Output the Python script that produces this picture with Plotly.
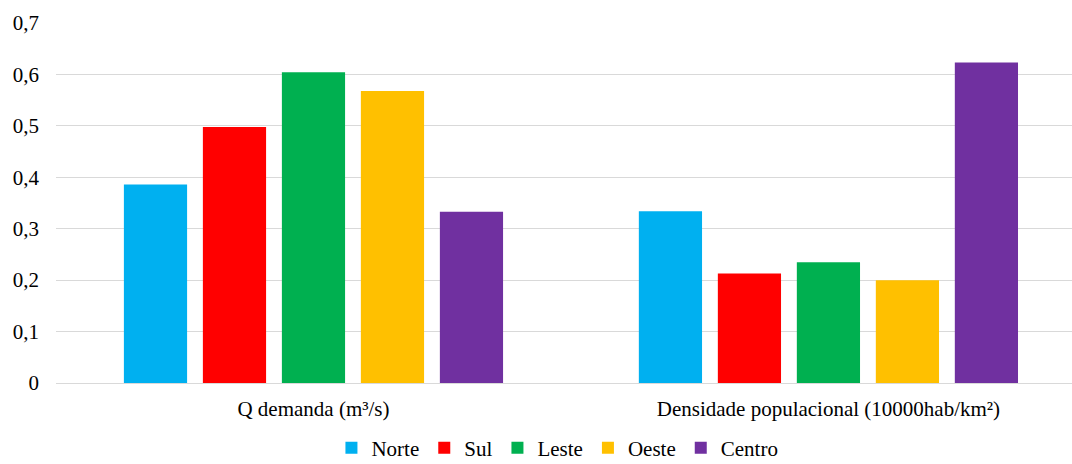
import plotly.graph_objects as go

categories = ["Q demanda (m³/s)", "Densidade populacional (10000hab/km²)"]
series_names = ["Norte", "Sul", "Leste", "Oeste", "Centro"]
norte = [0.386, 0.334]
sul = [0.498, 0.213]
leste = [0.604, 0.235]
oeste = [0.568, 0.200]
centro = [0.333, 0.623]
colors = ["#00B0F0", "#FF0000", "#00B050", "#FFC000", "#7030A0"]
y_ticks = [0, 0.1, 0.2, 0.3, 0.4, 0.5, 0.6, 0.7]
y_tick_labels = ["0", "0,1", "0,2", "0,3", "0,4", "0,5", "0,6", "0,7"]

fig = go.Figure()
for name, vals, col in zip(series_names, [norte, sul, leste, oeste, centro], colors):
    fig.add_trace(go.Bar(name=name, x=categories, y=vals, marker=dict(color=col, line=dict(width=0))))

FONT = "'Liberation Serif', 'Times New Roman', serif"
fig.update_layout(
    template="none",
    width=1072, height=464,
    margin=dict(l=56, r=0, t=23, b=81),
    paper_bgcolor="white", plot_bgcolor="white",
    font=dict(family=FONT, size=21, color="#000000"),
    barmode="group", bargap=0.233, bargroupgap=0.2,
    legend=dict(orientation="h", xref="container", yref="container",
                x=0.52, xanchor="center", y=0.034, yanchor="middle",
                font=dict(family=FONT, size=21, color="#000000"),
                itemsizing="constant", traceorder="normal"),
    showlegend=True,
)
fig.update_xaxes(range=[-0.5, 1.473], showgrid=False, showline=False, ticks="",
                 zeroline=False, tickfont=dict(family=FONT, size=21), ticklabelstandoff=11)
fig.update_yaxes(range=[0, 0.7], tickvals=y_ticks, ticktext=y_tick_labels,
                 showgrid=True, gridcolor="#D9D9D9", gridwidth=1,
                 zeroline=True, zerolinecolor="#D9D9D9", zerolinewidth=1,
                 showline=False, ticks="", tickfont=dict(family=FONT, size=21),
                 ticklabelstandoff=16)

fig.write_html("out.html")
